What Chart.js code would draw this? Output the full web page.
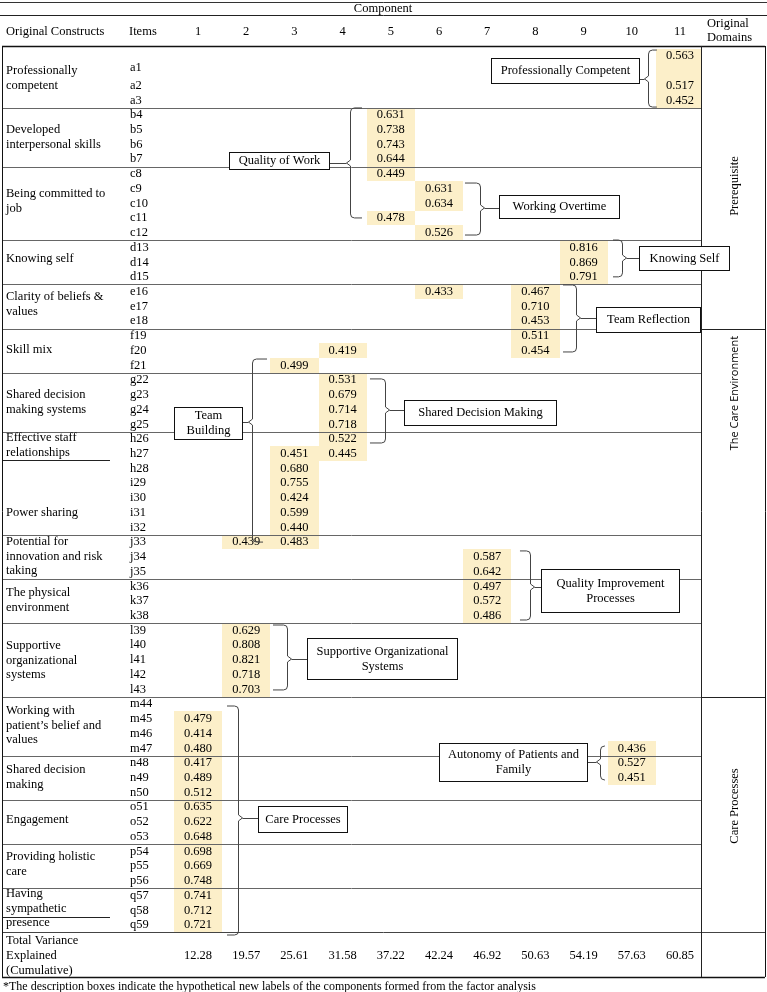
<!DOCTYPE html>
<html>
<head>
<meta charset="utf-8">
<script src="https://cdn.jsdelivr.net/npm/chart.js@4.4.1/dist/chart.umd.min.js"></script>
<style>
  html, body { margin: 0; padding: 0; background: #fff; }
  canvas { display: block; }
</style>
</head>
<body>
<canvas id="chart" width="767" height="992"></canvas>
<script>
// Rotated component matrix: loadings >= 0.4, grouped into new labels
const COMPONENTS = [1, 2, 3, 4, 5, 6, 7, 8, 9, 10, 11];

const ITEMS = ['a1','a2','a3','b4','b5','b6','b7','c8','c9','c10','c11','c12','d13','d14','d15',
  'e16','e17','e18','f19','f20','f21','g22','g23','g24','g25','h26','h27','h28','i29','i30','i31','i32',
  'j33','j34','j35','k36','k37','k38','l39','l40','l41','l42','l43','m44','m45','m46','m47',
  'n48','n49','n50','o51','o52','o53','p54','p55','p56','q57','q58','q59'];

const CONSTRUCTS = [
  'Professionally\ncompetent', 'Developed\ninterpersonal skills', 'Being committed to\njob',
  'Knowing self', 'Clarity of beliefs &\nvalues', 'Skill mix', 'Shared decision\nmaking systems',
  'Effective staff\nrelationships', 'Power sharing', 'Potential for\ninnovation and risk\ntaking',
  'The physical\nenvironment', 'Supportive\norganizational\nsystems',
  'Working with\npatient\u2019s belief and\nvalues', 'Shared decision\nmaking', 'Engagement',
  'Providing holistic\ncare', 'Having\nsympathetic\npresence'
];

const LOAD_ITEM = ['a1','a2','a3','b4','b5','b6','b7','c8','c9','c10','c11','c12','d13','d14','d15',
  'e16','e16','e17','e18','f19','f20','f20','f21','g22','g23','g24','g25','h26','h27','h27','h28',
  'i29','i30','i31','i32','j33','j33','j34','j35','k36','k37','k38','l39','l40','l41','l42','l43',
  'm45','m46','m47','n48','n49','n50','o51','o52','o53','p54','p55','p56','q57','q58','q59',
  'm47','n48','n49'];
const LOAD_COMP = [11,11,11,5,5,5,5,5,6,6,5,6,9,9,9,
  6,8,8,8,8,8,4,3,4,4,4,4,4,3,4,3,
  3,3,3,3,2,3,7,7,7,7,7,2,2,2,2,2,
  1,1,1,1,1,1,1,1,1,1,1,1,1,1,1,
  10,10,10];
const LOAD_VALUE = [0.563,0.517,0.452,0.631,0.738,0.743,0.644,0.449,0.631,0.634,0.478,0.526,0.816,0.869,0.791,
  0.433,0.467,0.710,0.453,0.511,0.454,0.419,0.499,0.531,0.679,0.714,0.718,0.522,0.451,0.445,0.680,
  0.755,0.424,0.599,0.440,0.439,0.483,0.587,0.642,0.497,0.572,0.486,0.629,0.808,0.821,0.718,0.703,
  0.479,0.414,0.480,0.417,0.489,0.512,0.635,0.622,0.648,0.698,0.669,0.748,0.741,0.712,0.721,
  0.436,0.527,0.451];

const TOTAL_VARIANCE = [12.28, 19.57, 25.61, 31.58, 37.22, 42.24, 46.92, 50.63, 54.19, 57.63, 60.85];

const DOMAINS = ['Prerequisite', 'The Care Environment', 'Care Processes'];

const GROUP_LABELS = ['Professionally Competent', 'Quality of Work', 'Working Overtime', 'Knowing Self',
  'Team Reflection', 'Team\nBuilding', 'Shared Decision Making', 'Quality Improvement\nProcesses',
  'Supportive Organizational\nSystems', 'Autonomy of Patients and\nFamily', 'Care Processes'];

const NOTE = '*The description boxes indicate the hypothetical new labels of the components formed from the factor analysis';

// ---- layout (x in component units, y in item-row units) ----
const X_RANGE = [-3.108, 12.805];
const Y_RANGE = [-3.809, 63.55];
const COLX = { left: -3.066, text: -2.983, items: -0.432, underline: -0.826, domain: 11.436, domainText: 11.56, domainMid: 12.141, right: 12.763, note: -3.046, title: 4.838 };
const ROWY = { top: -3.67, compLine: -2.79, head: -0.686, total: 59.5, bottom: 62.53, compText: -3.22,
  headText: -1.64, dom1: -2.18, dom2: -1.23, tv: [60.08, 61.1, 62.12], note: 63.18 };
const CONSTRUCT_ROWS = [1.01, 5.02, 9.36, 13.78, 16.36, 19.96, 23.01, 25.93, 31.03, 33.0, 36.46, 40.05, 44.47, 48.48, 51.87, 54.38, 56.89];
const SECTION_BREAKS = [3.5, 7.5, 12.5, 15.5, 18.5, 21.5, 25.5, 32.5, 35.5, 38.5, 43.5, 47.5, 50.5, 53.5, 56.5];
const UNDERLINES = [27.42, 58.46];
const DOMAIN_BREAKS = [18.5, 43.5];
const DOMAIN_ROWS = [8.82, 22.88, 50.92];

const BOXES = [
  [7.08, 10.15, 0.13, 1.83], [1.643, 3.718, 6.51, 7.67], [7.245, 9.734, 9.43, 10.99],
  [10.149, 12.017, 12.89, 14.52], [9.257, 11.415, 17.04, 18.73], [0.502, 1.913, 23.83, 26.0],
  [5.274, 8.427, 23.35, 25.05], [8.116, 10.979, 34.83, 37.75], [3.261, 6.373, 39.51, 42.3],
  [6.0, 9.071, 46.64, 49.22], [2.245, 4.091, 50.92, 52.68]
];
const BRACES = [
  { dir: -1, hook: 10.52, spine: 10.34, top: -0.41, bottom: 3.46, tip: 1.55 },
  { dir: -1, hook: 4.402, spine: 4.154, top: 3.52, bottom: 10.99, tip: 7.26 },
  { dir: 1, hook: 6.539, spine: 6.851, top: 8.62, bottom: 12.15, tip: 10.31 },
  { dir: 1, hook: 9.61, spine: 9.797, top: 12.49, bottom: 14.99, tip: 13.71 },
  { dir: 1, hook: 8.573, spine: 8.842, top: 15.54, bottom: 20.09, tip: 17.78 },
  { dir: -1, hook: 2.432, spine: 2.12, top: 20.57, bottom: 33.0, tip: 24.85, hookBottom: 2.349 },
  { dir: 1, hook: 4.568, spine: 4.88, top: 21.92, bottom: 26.27, tip: 24.03 },
  { dir: 1, hook: 7.68, spine: 7.888, top: 33.6, bottom: 38.29, tip: 36.05 },
  { dir: 1, hook: 2.556, spine: 2.846, top: 38.63, bottom: 43.04, tip: 40.94 },
  { dir: -1, hook: 9.444, spine: 9.34, top: 46.85, bottom: 49.15, tip: 47.93 },
  { dir: 1, hook: 1.602, spine: 1.83, top: 44.13, bottom: 59.68, tip: 51.73 }
];

const SERIF = '"Liberation Serif", "Times New Roman", serif';
const FONT = '12.5px ' + SERIF;
const HILITE = '#fcefc9';
const INK = '#000';

function rowOf(item) { return item === 'a1' ? 0 : parseInt(item.slice(1), 10); }
function labelRowOf(item) { return item === 'a1' ? 0.81 : rowOf(item); }
const CELL_SPAN = { a1: 2 };

const tablePlugin = {
  id: 'factorTable',
  afterDraw(chart) {
    const ctx = chart.ctx;
    const xs = chart.scales.x, ys = chart.scales.y;
    const X = v => xs.getPixelForValue(v);
    const Y = v => ys.getPixelForValue(v);
    const P = v => Math.round(v) + 0.5;
    const domainX = X(COLX.domain);
    const meta = chart.getDatasetMeta(0);

    ctx.save();

    // highlighted loading cells
    ctx.fillStyle = HILITE;
    meta.data.forEach((pt, i) => {
      const c = LOAD_COMP[i], r = rowOf(LOAD_ITEM[i]);
      const span = CELL_SPAN[LOAD_ITEM[i]] || 1;
      const x0 = Math.round(X(c - 0.5)), x1 = Math.round(Math.min(X(c + 0.5), domainX));
      const y0 = Math.round(Y(r - 0.5)), y1 = Math.round(Y(r - 0.5 + span));
      ctx.fillRect(x0, y0, x1 - x0, y1 - y0);
    });

    // grid lines
    const hline = (y, xa, xb, color, w) => {
      ctx.strokeStyle = color; ctx.lineWidth = w || 1;
      ctx.beginPath(); ctx.moveTo(X(xa), P(Y(y))); ctx.lineTo(X(xb), P(Y(y))); ctx.stroke();
    };
    const vline = (x, ya, yb, color, w) => {
      ctx.strokeStyle = color; ctx.lineWidth = w || 1;
      ctx.beginPath(); ctx.moveTo(P(X(x)), Y(ya)); ctx.lineTo(P(X(x)), Y(yb)); ctx.stroke();
    };
    SECTION_BREAKS.forEach(r => hline(r, COLX.left, COLX.domain, '#666'));
    UNDERLINES.forEach(r => hline(r, COLX.left, COLX.underline, '#222'));
    DOMAIN_BREAKS.forEach(r => hline(r, COLX.domain, COLX.right, '#222'));
    hline(ROWY.total, COLX.left, COLX.right, '#444');
    hline(ROWY.top, X_RANGE[0], X_RANGE[1], '#333');
    hline(ROWY.compLine, X_RANGE[0], X_RANGE[1], '#222');
    hline(ROWY.head, COLX.left, COLX.right, '#111', 1.5);
    hline(ROWY.bottom, COLX.left, COLX.right, '#111', 1.5);
    vline(COLX.left, ROWY.head, ROWY.bottom, '#111');
    vline(COLX.domain, ROWY.head, ROWY.bottom, '#222');
    vline(COLX.right, ROWY.head, ROWY.bottom, '#111');

    // texts
    ctx.fillStyle = INK;
    ctx.font = FONT;
    ctx.textBaseline = 'middle';
    ctx.textAlign = 'center';
    ctx.fillText('Component', X(COLX.title), Y(ROWY.compText));
    COMPONENTS.forEach(c => ctx.fillText(String(c), X(c), Y(ROWY.headText)));
    TOTAL_VARIANCE.forEach((v, i) => ctx.fillText(v.toFixed(2), X(COMPONENTS[i]), Y(ROWY.tv[1])));
    meta.data.forEach((pt, i) => ctx.fillText(LOAD_VALUE[i].toFixed(3), pt.x, pt.y));

    ctx.textAlign = 'left';
    ctx.fillText('Original Constructs', X(COLX.text), Y(ROWY.headText));
    ctx.fillText('Items', X(COLX.items), Y(ROWY.headText));
    ctx.fillText('Original', X(COLX.domainText), Y(ROWY.dom1));
    ctx.fillText('Domains', X(COLX.domainText), Y(ROWY.dom2));
    ITEMS.forEach(it => ctx.fillText(it, X(COLX.items + 0.02), Y(labelRowOf(it))));
    CONSTRUCTS.forEach((txt, i) => {
      txt.split('\n').forEach((ln, k) => ctx.fillText(ln, X(COLX.text), Y(CONSTRUCT_ROWS[i] + k * 0.98)));
    });
    ['Total Variance', 'Explained', '(Cumulative)'].forEach((ln, k) => ctx.fillText(ln, X(COLX.text), Y(ROWY.tv[k])));
    ctx.font = '12px ' + SERIF;
    ctx.fillText(NOTE, X(COLX.note), Y(ROWY.note));

    // rotated domain labels
    DOMAINS.forEach((d, i) => {
      ctx.save();
      ctx.translate(X(COLX.domainMid), Y(DOMAIN_ROWS[i]));
      ctx.rotate(-Math.PI / 2);
      ctx.textAlign = 'center';
      ctx.font = i === 1 ? '11px "Open Sans", "DejaVu Sans", sans-serif' : FONT;
      ctx.fillText(d, 0, 0);
      ctx.restore();
    });

    // braces
    ctx.strokeStyle = '#444';
    ctx.lineWidth = 1;
    BRACES.forEach((b, i) => {
      const sx = P(X(b.spine)), t = Y(b.top), bt = Y(b.bottom), ty = Y(b.tip);
      const hx = X(b.hook), hbx = X(b.hookBottom || b.hook);
      const r = 4, d = b.dir;
      ctx.beginPath();
      ctx.moveTo(hx, t);
      ctx.lineTo(sx - d * r, t);
      ctx.quadraticCurveTo(sx, t, sx, t + r);
      ctx.lineTo(sx, ty - 3);
      ctx.lineTo(sx + d * 4, ty);
      ctx.lineTo(sx, ty + 3);
      ctx.lineTo(sx, bt - r);
      ctx.quadraticCurveTo(sx, bt, sx - d * r, bt);
      ctx.lineTo(hbx, bt);
      ctx.stroke();
      const box = BOXES[i];
      const bx = d > 0 ? X(box[0]) : X(box[1]);
      ctx.beginPath();
      ctx.moveTo(sx + d * 4, P(ty));
      ctx.lineTo(bx, P(ty));
      ctx.stroke();
    });

    // label boxes
    ctx.font = FONT;
    ctx.textAlign = 'center';
    BOXES.forEach((bx, i) => {
      const x0 = P(X(bx[0])), x1 = P(X(bx[1])), y0 = P(Y(bx[2])), y1 = P(Y(bx[3]));
      ctx.fillStyle = '#fff';
      ctx.fillRect(x0, y0, x1 - x0, y1 - y0);
      ctx.strokeStyle = '#111';
      ctx.strokeRect(x0, y0, x1 - x0, y1 - y0);
      ctx.fillStyle = INK;
      const lines = GROUP_LABELS[i].split('\n');
      const cy = (y0 + y1) / 2;
      lines.forEach((ln, k) => ctx.fillText(ln, (x0 + x1) / 2, cy + (k - (lines.length - 1) / 2) * 15));
    });

    ctx.restore();
  }
};

const chart = new Chart(document.getElementById('chart').getContext('2d'), {
  type: 'scatter',
  data: {
    datasets: [{
      label: 'Loadings',
      data: LOAD_ITEM.map((it, i) => ({ x: LOAD_COMP[i], y: rowOf(it) })),
      pointRadius: 0,
      pointHoverRadius: 0
    }]
  },
  options: {
    responsive: false,
    devicePixelRatio: 1,
    animation: false,
    layout: { padding: 0 },
    plugins: { legend: { display: false }, tooltip: { enabled: false } },
    scales: {
      x: { type: 'linear', min: X_RANGE[0], max: X_RANGE[1], display: false },
      y: { type: 'linear', min: Y_RANGE[0], max: Y_RANGE[1], reverse: true, display: false }
    }
  },
  plugins: [tablePlugin]
});
</script>
</body>
</html>
